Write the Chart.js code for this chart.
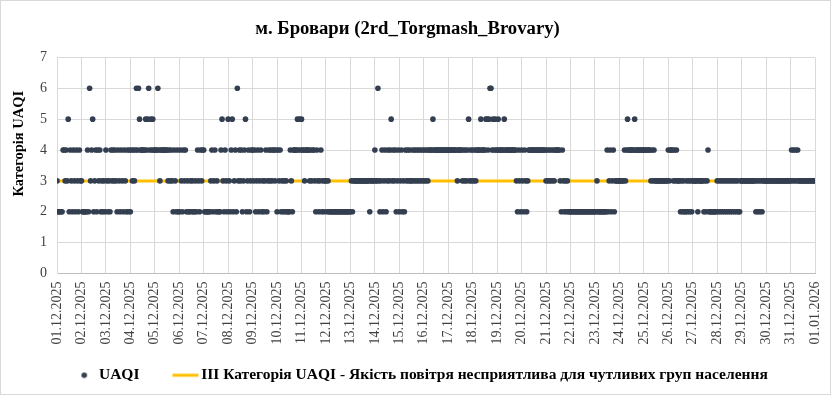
<!DOCTYPE html>
<html>
<head>
<meta charset="utf-8">
<script src="https://cdn.jsdelivr.net/npm/chart.js@4.4.0/dist/chart.umd.min.js"></script>
<style>
  body { margin: 0; background: #fff; }
</style>
</head>
<body>
<canvas id="mycanvas" width="831" height="395"></canvas>
<script>
// tick labels for every day (gridline at 00:00)
var dayLabels = [
  "01.12.2025", "02.12.2025", "03.12.2025", "04.12.2025", "05.12.2025", "06.12.2025",
  "07.12.2025", "08.12.2025", "09.12.2025", "10.12.2025", "11.12.2025", "12.12.2025",
  "13.12.2025", "14.12.2025", "15.12.2025", "16.12.2025", "17.12.2025", "18.12.2025",
  "19.12.2025", "20.12.2025", "21.12.2025", "22.12.2025", "23.12.2025", "24.12.2025",
  "25.12.2025", "26.12.2025", "27.12.2025", "28.12.2025", "29.12.2025", "30.12.2025",
  "31.12.2025", "01.01.2026"
];

// hourly UAQI category, one string of 24 hours per day
var uaqiDays = [
  "322222443435243243243243",
  "322222426345234243423232",
  "432324343432432432432424",
  "243434646544444545645454",
  "444643444444434343243242",
  "243243423223232232432434",
  "422222234234232224532432",
  "532452342634342345234234",
  "434234234232342343434434",
  "243423232322243244445454",
  "544344443434432432342323",
  "323222222222222222222222",
  "232333333333333333323333",
  "433632342342343453434234",
  "234232434343343434343434",
  "343434444544444444444444",
  "444444444344443434345343",
  "434344445444455456645454",
  "454444454444444444432432",
  "432432344444444444444444",
  "343434343444443243232322",
  "222222222222222222222222",
  "223222222222423423423333",
  "333334345444444544444444",
  "444444434343333333333333",
  "434443434333232322323232",
  "333332333332323422222222",
  "323232323232323232323223",
  "333333333333332323232333",
  "333333333333333333333333",
  "343434343333333333333333"
];
var uaqiLast = 3; // 01.01.2026 00:00

// III category threshold
var thresholdLevel = 3;

var seriesNames = ["UAQI", "III Категорія UAQI - Якість повітря несприятлива для чутливих груп населення"];

var dotColor = "#333F50";
var lineColor = "#FFC000";

// build points
var uaqiPoints = [];
uaqiDays.forEach(function(day, d) {
  if (day.length !== 24) throw new Error("day " + (d + 1) + " has " + day.length + " hours");
  day.split("").forEach(function(v, h) {
    uaqiPoints.push({ x: d * 24 + h, y: Number(v) });
  });
});
uaqiPoints.push({ x: uaqiDays.length * 24, y: uaqiLast });
var lastHour = uaqiDays.length * 24;

// legend icons
function makeIcon(w, draw) {
  var c = document.createElement("canvas");
  c.width = w; c.height = 10;
  draw(c.getContext("2d"));
  return c;
}
var dotIcon = makeIcon(44, function(g) {
  g.fillStyle = dotColor;
  g.beginPath(); g.arc(37, 5, 2.8, 0, 2 * Math.PI); g.fill();
});
var lineIcon = makeIcon(56, function(g) {
  g.fillStyle = lineColor;
  g.fillRect(29, 3.5, 26, 3);
});

var serif = "'Liberation Serif', 'Times New Roman', serif";

var chartBorder = {
  id: "chartBorder",
  beforeDraw: function(chart) {
    var c = chart.ctx;
    c.save();
    c.fillStyle = "#fff";
    c.fillRect(0, 0, chart.width, chart.height);
    c.strokeStyle = "#D9D9D9";
    c.lineWidth = 1;
    c.strokeRect(0.5, 0.5, chart.width - 1, chart.height - 1);
    c.restore();
  }
};

var ctx1 = document.getElementById("mycanvas");

var chart1 = new Chart(ctx1, {
  type: "scatter",
  data: {
    datasets: [
      {
        label: seriesNames[0],
        data: uaqiPoints,
        backgroundColor: dotColor,
        borderWidth: 0,
        pointRadius: 2.8,
        pointHoverRadius: 2.8
      },
      {
        type: "line",
        label: seriesNames[1],
        data: [{ x: 0, y: thresholdLevel }, { x: lastHour, y: thresholdLevel }],
        borderColor: lineColor,
        borderWidth: 3,
        pointRadius: 0,
        fill: false
      }
    ]
  },
  options: {
    responsive: false,
    animation: false,
    devicePixelRatio: 1,
    layout: { padding: { top: 0, right: 16, bottom: 2, left: 0 } },
    plugins: {
      title: {
        display: true,
        text: "м. Бровари (2rd_Torgmash_Brovary)",
        color: "#000",
        font: { family: serif, size: 18.7, weight: "bold" },
        padding: { top: 18, bottom: 17 }
      },
      legend: {
        display: true,
        position: "bottom",
        labels: {
          usePointStyle: true,
          pointStyleWidth: 44,
          padding: 10,
          color: "#000",
          font: { family: serif, size: 15.5, weight: "bold" },
          generateLabels: function() {
            return [
              { text: seriesNames[0], pointStyle: dotIcon, fillStyle: dotColor, strokeStyle: dotColor, lineWidth: 0, hidden: false, datasetIndex: 0 },
              { text: seriesNames[1], pointStyle: lineIcon, fillStyle: lineColor, strokeStyle: lineColor, lineWidth: 0, hidden: false, datasetIndex: 1 }
            ];
          }
        }
      },
      tooltip: { enabled: false }
    },
    scales: {
      x: {
        type: "linear",
        min: 0,
        max: lastHour,
        afterFit: function(scale) {
          scale.height = 84;
          scale.paddingRight = 0;
          scale.paddingLeft = 0;
        },
        grid: { color: "#D9D9D9", drawTicks: false },
        border: { color: "#BFBFBF" },
        ticks: {
          stepSize: 24,
          autoSkip: false,
          maxRotation: 90,
          minRotation: 90,
          padding: 8,
          color: "#404040",
          font: { family: serif, size: 14 },
          callback: function(value) { return dayLabels[Math.round(value / 24)]; }
        }
      },
      y: {
        min: 0,
        max: 7,
        afterFit: function(scale) { scale.width = 57; },
        grid: { color: "#D9D9D9", drawTicks: false },
        border: { color: "#D9D9D9" },
        ticks: {
          stepSize: 1,
          padding: 10,
          color: "#404040",
          font: { family: serif, size: 14 }
        },
        title: {
          display: true,
          // leading spaces lift the title a little above the axis middle, as in the original
          text: "            Категорія UAQI",
          color: "#000",
          font: { family: serif, size: 14.5, weight: "bold" },
          padding: { top: 11, bottom: 0 }
        }
      }
    }
  },
  plugins: [chartBorder]
});
</script>
</body>
</html>
